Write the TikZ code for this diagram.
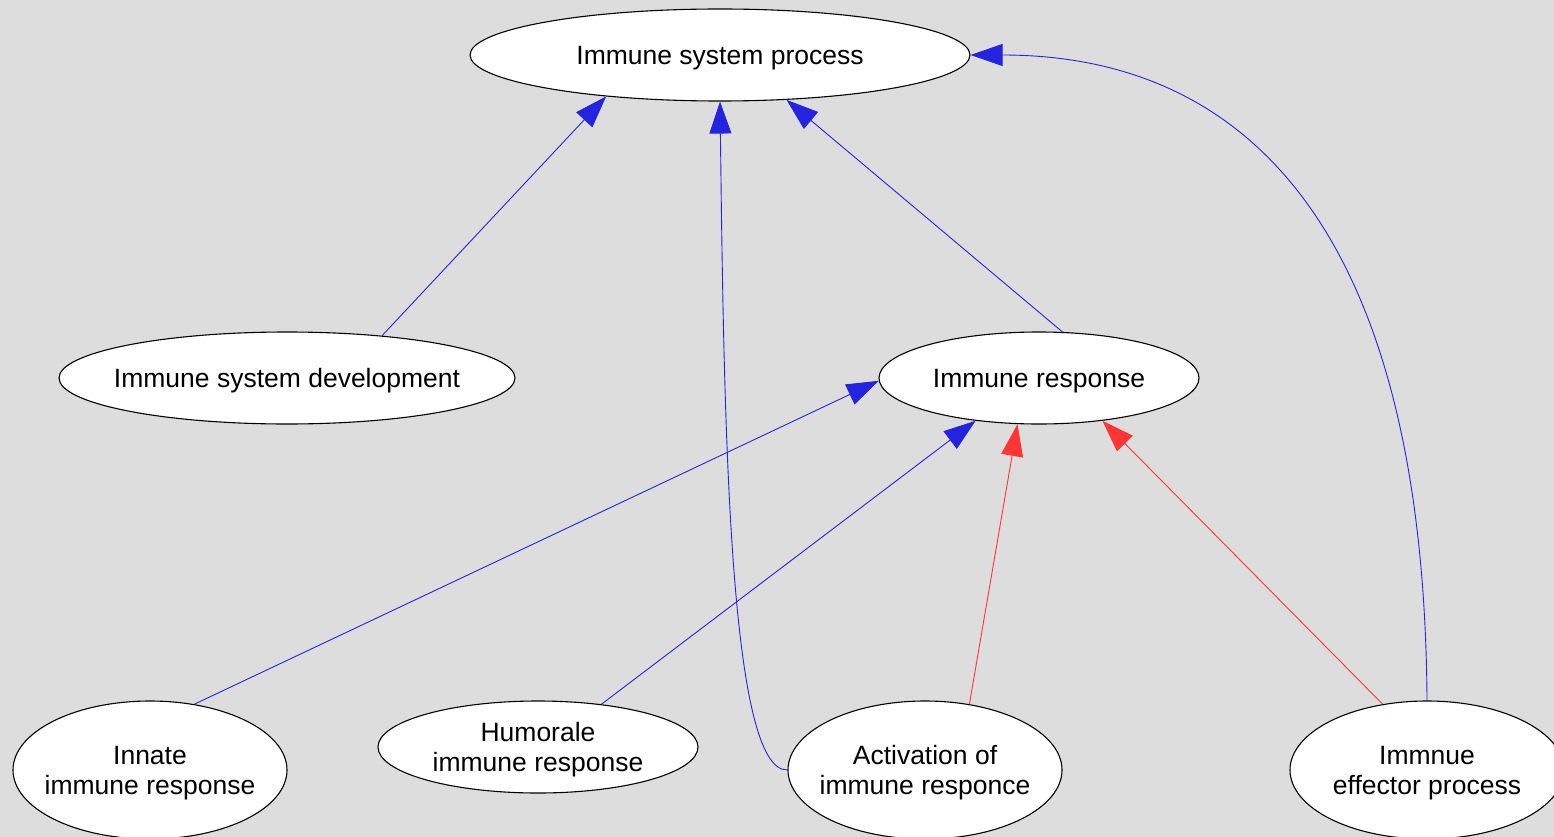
\documentclass[tikz,border=0pt]{standalone}
\usepackage{fontspec}
\setmainfont{Liberation Sans}
\usepackage{tikz}
\usetikzlibrary{shapes.geometric, arrows.meta}
\definecolor{graphgray}{RGB}{221, 221, 221}
\definecolor{isablue}{RGB}{36, 36, 224}
\definecolor{partred}{RGB}{255, 52, 52}

\begin{document}
\begin{tikzpicture}[x=1pt, y=-1pt,
  term/.style={ellipse, draw=black, line width=1.1pt, fill=white,
    inner xsep=-20pt, inner ysep=0pt, align=center, text depth=0pt,
    font=\fontsize{26.5}{30}\selectfont},
  isa/.style={isablue, line width=0.9pt, -{Triangle[length=32pt, width=22pt]}},
  regulates/.style={partred, line width=0.9pt, -{Triangle[length=32pt, width=22pt]}}]
  % Background
  \fill[graphgray] (0,0) rectangle (1554,837);
  \useasboundingbox (0,0) rectangle (1554,837);

  % Terms
  \node[term, minimum width=500pt, minimum height=92pt] (top) at (720,55) {Immune system process};
  \node[term, minimum width=456pt, minimum height=92pt] (dev) at (287,378) {Immune system development};
  \node[term, minimum width=320pt, minimum height=92pt] (ir) at (1039,378) {Immune response};
  \node[term, minimum width=274pt, minimum height=138pt] (inn) at (150,770) {Innate\\immune response};
  \node[term, minimum width=320pt, minimum height=92pt] (hum) at (538,747) {Humorale\\immune response};
  \node[term, minimum width=274pt, minimum height=138pt] (act) at (925,770) {Activation of\\immune responce};
  \node[term, minimum width=274pt, minimum height=138pt] (eff) at (1427,770) {Immnue\\effector process};

  % Straight is-a links
  \foreach \from/\to in {dev.24.5/top.200, ir.63/top.326, inn.56/ir.181, hum.34/ir.214} {
    \draw[isa] (\from) -- (\to);
  }

  % Curved is-a links
  \draw[isa] (act.west) .. controls +(-59,2) and +(4,319) .. (top.south);
  \draw[isa] (eff.north) .. controls +(-3,-480) and +(270,0) .. (top.east);

  % Red links
  \draw[regulates] (act.56) -- (ir.245);
  \draw[regulates] (eff.124) -- (ir.326);
\end{tikzpicture}
\end{document}
